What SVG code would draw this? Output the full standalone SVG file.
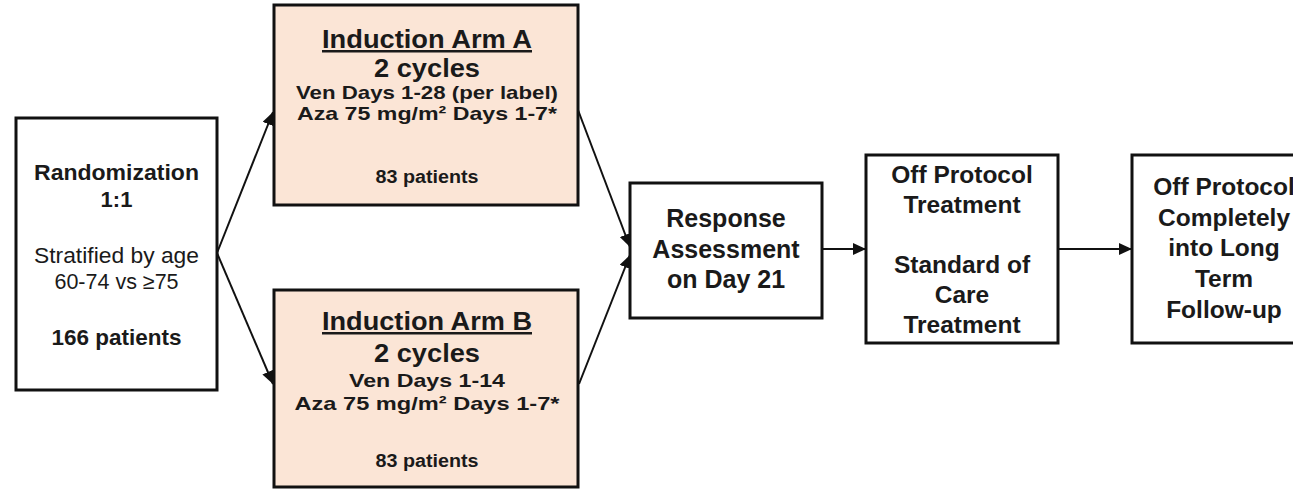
<svg xmlns="http://www.w3.org/2000/svg" width="1293" height="490" viewBox="0 0 1293 490">
  <defs>
    <marker id="arrow" markerUnits="userSpaceOnUse" markerWidth="14" markerHeight="12" refX="13" refY="6" orient="auto">
      <path d="M0,0 L13,6 L0,12 Z" fill="#111"/>
    </marker>
    <style>
      .box { fill: #ffffff; stroke: #111; stroke-width: 3; }
      .arm { fill: #fbe5d6; stroke: #111; stroke-width: 3; }
      .edge { fill: none; stroke: #111; stroke-width: 2; marker-end: url(#arrow); }
      text { font-family: "Liberation Sans", Arial, sans-serif; fill: #1a1a1a; text-anchor: middle; }
      .b { font-weight: bold; }
      .u { text-decoration: underline; }
    </style>
  </defs>

  <rect width="1293" height="490" fill="#ffffff"/>

  <!-- connectors -->
  <g id="connectors">
    <line class="edge" x1="217" y1="253" x2="273" y2="112"/>
    <line class="edge" x1="217" y1="253" x2="273" y2="384"/>
    <line class="edge" x1="578" y1="110" x2="630" y2="247"/>
    <line class="edge" x1="579" y1="384" x2="630" y2="255"/>
    <line class="edge" x1="822" y1="249" x2="866" y2="249"/>
    <line class="edge" x1="1058" y1="249" x2="1132" y2="249"/>
  </g>

  <!-- randomization -->
  <g id="randomization">
    <rect class="box" x="16" y="118" width="201" height="272"/>
    <text class="b" x="116.5" y="180" font-size="22" textLength="165" lengthAdjust="spacingAndGlyphs">Randomization</text>
    <text class="b" x="116.5" y="207" font-size="22">1:1</text>
    <text x="116.5" y="263" font-size="21.5" textLength="165" lengthAdjust="spacingAndGlyphs">Stratified by age</text>
    <text x="116.5" y="289" font-size="21.5">60-74 vs ≥75</text>
    <text class="b" x="116.5" y="345" font-size="22" textLength="130" lengthAdjust="spacingAndGlyphs">166 patients</text>
  </g>

  <!-- induction arm A -->
  <g id="arm-a">
    <rect class="arm" x="274" y="5" width="304" height="200"/>
    <text class="b u" x="427" y="48" font-size="25" textLength="210" lengthAdjust="spacingAndGlyphs">Induction Arm A</text>
    <text class="b" x="427" y="77" font-size="25" textLength="106" lengthAdjust="spacingAndGlyphs">2 cycles</text>
    <text class="b" x="427" y="99" font-size="18.5" textLength="262" lengthAdjust="spacingAndGlyphs">Ven Days 1-28 (per label)</text>
    <text class="b" x="427" y="120" font-size="18.5" textLength="260" lengthAdjust="spacingAndGlyphs">Aza 75 mg/m² Days 1-7*</text>
    <text class="b" x="427" y="183" font-size="18" textLength="103" lengthAdjust="spacingAndGlyphs">83 patients</text>
  </g>

  <!-- induction arm B -->
  <g id="arm-b">
    <rect class="arm" x="274" y="290" width="304" height="197"/>
    <text class="b u" x="427" y="330" font-size="25" textLength="210" lengthAdjust="spacingAndGlyphs">Induction Arm B</text>
    <text class="b" x="427" y="362" font-size="25" textLength="106" lengthAdjust="spacingAndGlyphs">2 cycles</text>
    <text class="b" x="427" y="387" font-size="19" textLength="156" lengthAdjust="spacingAndGlyphs">Ven Days 1-14</text>
    <text class="b" x="427" y="410" font-size="19" textLength="265" lengthAdjust="spacingAndGlyphs">Aza 75 mg/m² Days 1-7*</text>
    <text class="b" x="427" y="467" font-size="18" textLength="103" lengthAdjust="spacingAndGlyphs">83 patients</text>
  </g>

  <!-- response assessment -->
  <g id="response">
    <rect class="box" x="630" y="183" width="192" height="135"/>
    <text class="b" x="726" y="227" font-size="25">Response</text>
    <text class="b" x="726" y="258" font-size="25">Assessment</text>
    <text class="b" x="726" y="288" font-size="25">on Day 21</text>
  </g>

  <!-- off protocol treatment -->
  <g id="off-protocol-treatment">
    <rect class="box" x="866" y="155" width="192" height="188"/>
    <text class="b" x="962" y="183" font-size="24.5">Off Protocol</text>
    <text class="b" x="962" y="213" font-size="24.5">Treatment</text>
    <text class="b" x="962" y="273" font-size="24.5">Standard of</text>
    <text class="b" x="962" y="303" font-size="24.5">Care</text>
    <text class="b" x="962" y="333" font-size="24.5">Treatment</text>
  </g>

  <!-- long term follow-up -->
  <g id="follow-up">
    <rect class="box" x="1132" y="155" width="184" height="188"/>
    <text class="b" x="1224" y="195" font-size="24.5">Off Protocol</text>
    <text class="b" x="1224" y="226" font-size="24.5">Completely</text>
    <text class="b" x="1224" y="256" font-size="24.5">into Long</text>
    <text class="b" x="1224" y="287" font-size="24.5">Term</text>
    <text class="b" x="1224" y="318" font-size="24.5">Follow-up</text>
  </g>
</svg>
